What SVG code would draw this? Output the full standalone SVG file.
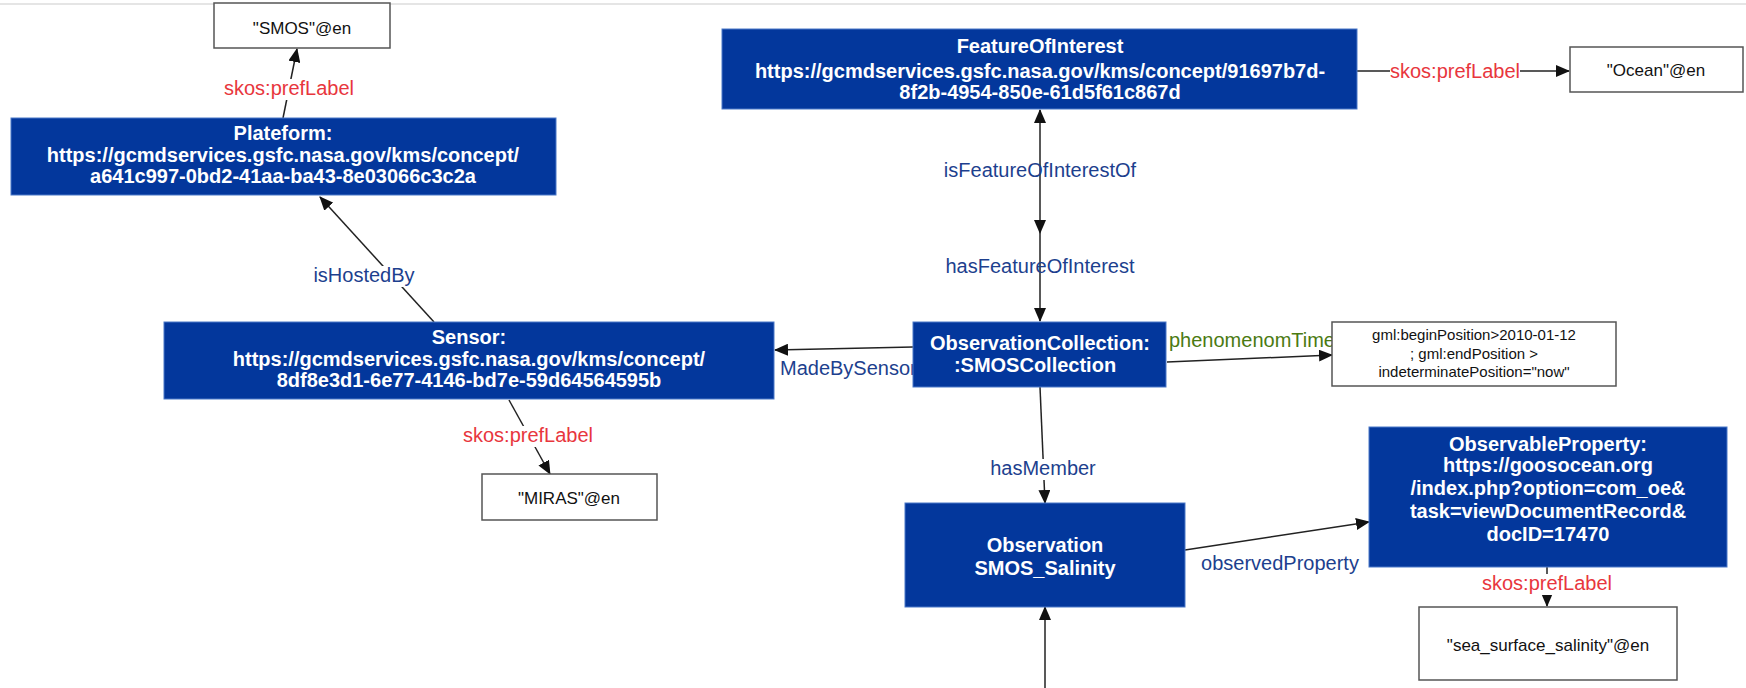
<svg xmlns="http://www.w3.org/2000/svg" width="1746" height="688" viewBox="0 0 1746 688">
  <defs>
    <marker id="arrow" markerUnits="userSpaceOnUse" markerWidth="14" markerHeight="12" refX="13" refY="6" orient="auto-start-reverse">
      <path d="M0,0 L14,6 L0,12 z" fill="#111"/>
    </marker>
    <style>
      .res rect { fill: #03379c; stroke: #4a78c8; stroke-width: 1; }
      .res text { fill: #ffffff; font-family: "Liberation Sans", Arial, sans-serif; font-weight: bold; font-size: 20px; text-anchor: middle; }
      .lit rect { fill: #ffffff; stroke: #555555; stroke-width: 1.5; }
      .lit text { fill: #111111; font-family: "Liberation Sans", Arial, sans-serif; font-size: 17px; text-anchor: middle; }
      .lit.small text { font-size: 15px; }
      .edge { stroke: #222222; stroke-width: 1.5; fill: none; marker-end: url(#arrow); }
      .bg { fill: #ffffff; stroke: none; }
      .lbl { font-family: "Liberation Sans", Arial, sans-serif; font-size: 20px; text-anchor: middle; }
      .rel { fill: #1d3f8e; }
      .pref { fill: #e8363d; }
      .time { fill: #4b7a12; }
    </style>
  </defs>

  <rect x="0" y="0" width="1746" height="688" fill="#ffffff"/>
  <line x1="0" y1="4" x2="1746" y2="4" stroke="#dddddd" stroke-width="1.5"/>

  <!-- connectors and their labels -->
  <g id="connectors">
    <line class="edge" x1="283" y1="118" x2="297" y2="49"/>
    <rect class="bg" x="224" y="79" width="130" height="21"/>
    <text class="lbl pref" x="289" y="95">skos:prefLabel</text>

    <line class="edge" x1="434" y1="322" x2="320" y2="197"/>
    <rect class="bg" x="313" y="266" width="102" height="21"/>
    <text class="lbl rel" x="364" y="282">isHostedBy</text>

    <line class="edge" x1="509" y1="400" x2="550" y2="474"/>
    <rect class="bg" x="463" y="426" width="130" height="21"/>
    <text class="lbl pref" x="528" y="442">skos:prefLabel</text>

    <line class="edge" x1="913" y1="347" x2="775" y2="350"/>
    <text class="lbl rel" x="780" y="375" style="text-anchor:start">MadeBySensor</text>

    <line class="edge" x1="1040" y1="233" x2="1040" y2="110" marker-start="url(#arrow)"/>
    <line class="edge" x1="1040" y1="233" x2="1040" y2="321"/>
    <text class="lbl rel" x="1040" y="177">isFeatureOfInterestOf</text>
    <text class="lbl rel" x="1040" y="273">hasFeatureOfInterest</text>

    <line class="edge" x1="1357" y1="71" x2="1569" y2="71"/>
    <rect class="bg" x="1390" y="62" width="130" height="21"/>
    <text class="lbl pref" x="1455" y="78">skos:prefLabel</text>

    <line class="edge" x1="1167" y1="362" x2="1332" y2="355"/>
    <text class="lbl time" x="1252" y="347">phenomenomTime</text>

    <line class="edge" x1="1040" y1="387" x2="1045" y2="503"/>
    <rect class="bg" x="990" y="459" width="106" height="21"/>
    <text class="lbl rel" x="1043" y="475">hasMember</text>

    <line class="edge" x1="1185" y1="550" x2="1369" y2="522"/>
    <text class="lbl rel" x="1280" y="570">observedProperty</text>

    <line class="edge" x1="1547" y1="567" x2="1547" y2="606"/>
    <rect class="bg" x="1482" y="574" width="130" height="21"/>
    <text class="lbl pref" x="1547" y="590">skos:prefLabel</text>

    <line class="edge" x1="1045" y1="690" x2="1045" y2="607"/>
  </g>

  <!-- literal nodes -->
  <g id="lit-smos" class="lit">
    <rect x="214" y="3" width="176" height="45"/>
    <text x="302" y="34">"SMOS"@en</text>
  </g>
  <g id="lit-miras" class="lit">
    <rect x="482" y="474" width="175" height="46"/>
    <text x="569" y="504">"MIRAS"@en</text>
  </g>
  <g id="lit-ocean" class="lit">
    <rect x="1570" y="47" width="173" height="45"/>
    <text x="1656" y="76">"Ocean"@en</text>
  </g>
  <g id="lit-time" class="lit small">
    <rect x="1332" y="322" width="284" height="64"/>
    <text x="1474" y="340">gml:beginPosition&gt;2010-01-12</text>
    <text x="1474" y="359">; gml:endPosition &gt;</text>
    <text x="1474" y="377">indeterminatePosition="now"</text>
  </g>
  <g id="lit-sss" class="lit">
    <rect x="1419" y="607" width="258" height="73"/>
    <text x="1548" y="651">"sea_surface_salinity"@en</text>
  </g>

  <!-- resource nodes -->
  <g id="plateform" class="res">
    <rect x="11" y="118" width="545" height="77"/>
    <text x="283" y="140">Plateform:</text>
    <text x="283" y="162">https://gcmdservices.gsfc.nasa.gov/kms/concept/</text>
    <text x="283" y="183">a641c997-0bd2-41aa-ba43-8e03066c3c2a</text>
  </g>
  <g id="sensor" class="res">
    <rect x="164" y="322" width="610" height="77"/>
    <text x="469" y="344">Sensor:</text>
    <text x="469" y="366">https://gcmdservices.gsfc.nasa.gov/kms/concept/</text>
    <text x="469" y="387">8df8e3d1-6e77-4146-bd7e-59d64564595b</text>
  </g>
  <g id="feature-of-interest" class="res">
    <rect x="722" y="29" width="635" height="80"/>
    <text x="1040" y="53">FeatureOfInterest</text>
    <text x="1040" y="78">https://gcmdservices.gsfc.nasa.gov/kms/concept/91697b7d-</text>
    <text x="1040" y="99">8f2b-4954-850e-61d5f61c867d</text>
  </g>
  <g id="observation-collection" class="res">
    <rect x="913" y="322" width="253" height="65"/>
    <text x="1040" y="350">ObservationCollection:</text>
    <text x="1035" y="372">:SMOSCollection</text>
  </g>
  <g id="observation" class="res">
    <rect x="905" y="503" width="280" height="104"/>
    <text x="1045" y="552">Observation</text>
    <text x="1045" y="575">SMOS_Salinity</text>
  </g>
  <g id="observable-property" class="res">
    <rect x="1369" y="427" width="358" height="140"/>
    <text x="1548" y="451">ObservableProperty:</text>
    <text x="1548" y="472">https://goosocean.org</text>
    <text x="1548" y="495">/index.php?option=com_oe&amp;</text>
    <text x="1548" y="518">task=viewDocumentRecord&amp;</text>
    <text x="1548" y="541">docID=17470</text>
  </g>
</svg>
